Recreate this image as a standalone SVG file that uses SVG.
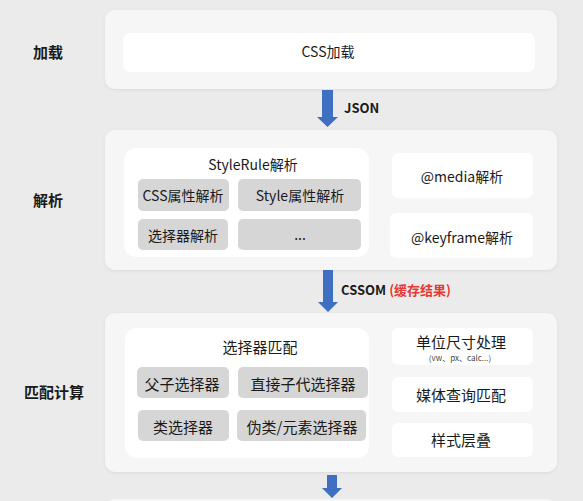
<svg xmlns="http://www.w3.org/2000/svg" width="583" height="501" viewBox="0 0 583 501">
<defs>
<style>
text{font-family:"Noto Sans CJK SC","Noto Sans",sans-serif;fill:#1a1a1a;}
.panel{fill:#f6f6f6;}
.white{fill:#ffffff;}
.gray{fill:#d6d6d6;}
.lbl{font-size:15px;font-weight:bold;text-anchor:middle;}
.t{font-size:14px;text-anchor:middle;}
.t15{font-size:15px;text-anchor:middle;}
.sm{font-size:8px;text-anchor:middle;fill:#444;}
.arrow{fill:#3f6fc0;}
.al{font-size:13px;font-weight:bold;}
</style>
<filter id="sh" x="-5%" y="-5%" width="110%" height="115%">
<feDropShadow dx="0" dy="1" stdDeviation="1.5" flood-color="#000" flood-opacity="0.08"/>
</filter>
</defs>
<rect width="583" height="501" fill="#ebebeb"/>

<g id="stage-load">
<rect class="panel" x="105" y="10" width="452" height="79" rx="10" filter="url(#sh)"/>
<text class="lbl" x="48" y="58">加载</text>
</g>
<g id="css-load">
<rect class="white" x="123" y="33" width="412" height="39" rx="7"/>
<text class="t" x="328" y="57">CSS加载</text>
</g>

<g id="stage-parse">
<rect class="panel" x="105" y="130" width="452" height="140" rx="10" filter="url(#sh)"/>
<text class="lbl" x="48" y="206">解析</text>
</g>
<g id="stylerule">
<rect class="white" x="124" y="148" width="245" height="109" rx="12"/>
<text class="t" x="253" y="170">StyleRule解析</text>
</g>
<g id="css-prop"><rect class="gray" x="138" y="179" width="91" height="32" rx="5"/><text class="t" x="183" y="201">CSS属性解析</text></g>
<g id="style-prop"><rect class="gray" x="238" y="179" width="123" height="32" rx="5"/><text class="t" x="300" y="201">Style属性解析</text></g>
<g id="selector-parse"><rect class="gray" x="138" y="219" width="90" height="31" rx="5"/><text class="t" x="183" y="241">选择器解析</text></g>
<g id="etc"><rect class="gray" x="238" y="219" width="123" height="31" rx="5"/><text class="t" x="300" y="240">...</text></g>
<g id="media-parse"><rect class="white" x="392" y="153" width="141" height="45" rx="6"/><text class="t" x="462" y="182">@media解析</text></g>
<g id="keyframe-parse"><rect class="white" x="390" y="213" width="143" height="45" rx="6"/><text class="t" x="462" y="243">@keyframe解析</text></g>

<g id="stage-match">
<rect class="panel" x="105" y="313" width="452" height="159" rx="10" filter="url(#sh)"/>
<text class="lbl" x="54" y="398">匹配计算</text>
</g>
<g id="selector-match">
<rect class="white" x="125" y="328" width="244" height="130" rx="12"/>
<text class="t15" x="260" y="353">选择器匹配</text>
</g>
<g id="parent-child"><rect class="gray" x="137" y="367" width="92" height="31" rx="5"/><text class="t15" x="182" y="390">父子选择器</text></g>
<g id="direct-child"><rect class="gray" x="238" y="367" width="130" height="31" rx="5"/><text class="t15" x="303" y="390">直接子代选择器</text></g>
<g id="class-sel"><rect class="gray" x="138" y="410" width="91" height="31" rx="5"/><text class="t15" x="183" y="433">类选择器</text></g>
<g id="pseudo-sel"><rect class="gray" x="237" y="410" width="129" height="31" rx="5"/><text class="t15" x="302" y="433">伪类/元素选择器</text></g>
<g id="unit"><rect class="white" x="392" y="328" width="141" height="37" rx="6"/><text class="t15" x="461" y="348">单位尺寸处理</text><text class="sm" x="460" y="361">(vw、px、calc...)</text></g>
<g id="media-match"><rect class="white" x="392" y="377" width="141" height="35" rx="6"/><text class="t15" x="461" y="401">媒体查询匹配</text></g>
<g id="cascade"><rect class="white" x="392" y="423" width="141" height="34" rx="6"/><text class="t15" x="461" y="446">样式层叠</text></g>

<g id="stage-next">
<rect class="panel" x="105" y="499" width="452" height="20" rx="10"/>
</g>

<g id="connectors">
<polygon class="arrow" points="322,90 333,90 333,117 338,117 327.5,127 317,117 322,117"/>
<text class="al" x="344" y="113">JSON</text>
<polygon class="arrow" points="323,270 333,270 333,302 338,302 328,312 318,302 323,302"/>
<text class="al" x="341" y="295">CSSOM <tspan fill="#e53935">(缓存结果)</tspan></text>
<polygon class="arrow" points="327,475 337,475 337,488 342,488 332,498 322,488 327,488"/>
</g>
</svg>
